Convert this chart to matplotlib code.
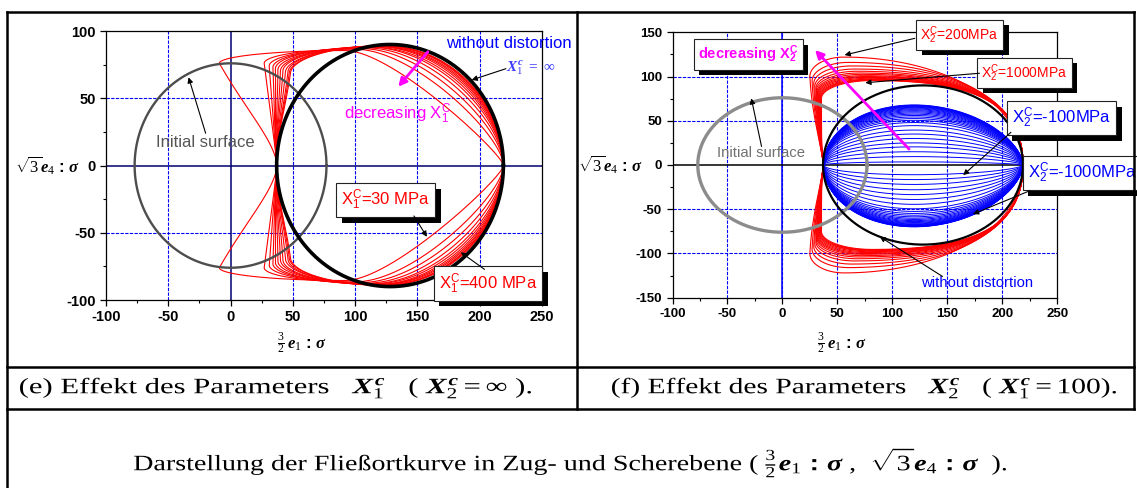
import numpy as np
import matplotlib.pyplot as plt
import matplotlib.patheffects as pe
from matplotlib.lines import Line2D
from matplotlib.textpath import TextPath
from matplotlib.patches import PathPatch
from matplotlib.font_manager import FontProperties
from matplotlib.transforms import Affine2D

plt.rcParams.update({
    'font.family': 'Liberation Sans',
    'axes.unicode_minus': False,
    'mathtext.fontset': 'custom',
    'mathtext.rm': 'Liberation Serif',
    'mathtext.it': 'Liberation Serif:italic:bold',
    'mathtext.bf': 'Liberation Sans:bold',
    'mathtext.sf': 'Liberation Sans',
})

# --- dati ---
# superficie iniziale e superficie senza distorsione (centro, semiassi)
init_cx, init_rx, init_ry = 0, 77, 76
ref_cx, ref_rx, ref_ry = 128, 91, 90
tip_left, tip_right = 37.5, 219

# pannello (e): X1c da 30 MPa (primo) a 400 MPa (ultimo)
lobe_x_e = [-9, 27, 31, 34, 36, 38, 40, 42, 44, 46, 47, 48]
lobe_y_e = [76, 76, 74, 73, 72, 71, 70, 70, 69, 69, 68, 68]
top_x_e = [92, 100, 105, 109, 112, 115, 117, 119, 121, 122, 123, 124]
top_y_e = [85.5, 86.5, 87, 87.5, 88, 88, 88.5, 88.5, 88.5, 89, 89, 89]
bulge_a_e = [0.10, 0.25, 0.33, 0.38, 0.42, 0.45, 0.47, 0.49, 0.50, 0.51, 0.52, 0.53]
bulge_b_e = [0.30, 0.40, 0.44, 0.47, 0.49, 0.50, 0.51, 0.52, 0.53, 0.54, 0.54, 0.55]

# pannello (f): X2c da 200 MPa (primo) a 1000 MPa (ultimo)
lobe_x_f = [25, 27, 28.5, 29.5, 30.5, 31, 31.5, 32, 32.5, 33, 33.5, 34, 34.5, 35, 35.5]
lobe_y_f = [100, 95, 92, 89, 87, 85, 83, 82, 81, 80, 79, 78, 77, 76, 75]
top_x_f = [56, 60, 63, 66, 68, 70, 72, 73.5, 75, 76.5, 78, 79, 80, 81, 82]
top_y_f = [122, 116, 112, 108.5, 106, 104, 102.5, 101, 100, 99, 98, 97, 96.5, 96, 95.5]
bulge_a_f = [0.62, 0.67, 0.70, 0.72, 0.73, 0.74, 0.74, 0.75, 0.75, 0.75, 0.76, 0.76, 0.76, 0.76, 0.76]
bulge_b_f = [0.52, 0.57, 0.59, 0.61, 0.62, 0.62, 0.63, 0.63, 0.64, 0.64, 0.64, 0.65, 0.65, 0.65, 0.65]

# pannello (f): X2c negativi, altezze sopra / sotto l'asse (da -100 a -1000 MPa)
blue_top = [3.5, 9.5, 15, 20.5, 25, 30, 35, 39.5, 44.5, 48, 50.5, 52.5, 54.3, 56, 57.5,
            58.9, 60.2, 61.4, 62.5, 63.5, 64.4, 65.2, 65.9, 66.5, 67.0, 67.5, 67.9]
blue_bot = [11, 16.5, 22, 28, 33.5, 39, 44.5, 49.5, 52.5, 54.8, 56.8, 58.6, 60.2, 61.6, 62.9,
            64.0, 65.0, 65.9, 66.7, 67.4, 68.0, 68.5, 68.9, 69.2, 69.5, 69.7, 69.9]

W, H = 1137, 488


def bez(p0, p1, p2, p3, n=40):
    t = np.linspace(0, 1, n)[:, None]
    p0, p1, p2, p3 = map(np.asarray, (p0, p1, p2, p3))
    return (1 - t) ** 3 * p0 + 3 * (1 - t) ** 2 * t * p1 + 3 * (1 - t) * t ** 2 * p2 + t ** 3 * p3


def yield_curve(lx, ly, tx, ty, ba, bb, slant):
    s1 = bez((tip_right, 0), (tip_right, ba * ty), (tx + bb * (tip_right - tx), ty), (tx, ty))
    s2 = bez((tx, ty), (tx - 0.55 * (tx - lx), ty), (lx, ly + 0.55 * (ty - ly)), (lx, ly))
    s3 = bez((lx, ly), (lx + slant * (tip_left - lx), 0.55 * ly), (tip_left - 2.5, 0.25 * ly), (tip_left, 0))
    up = np.vstack([s1, s2[1:], s3[1:]])
    low = up[::-1] * np.array([1, -1])
    pts = np.vstack([up, low[1:]])
    return pts[:, 0], pts[:, 1]


def ellipse(cx, rx, ry, n=300):
    th = np.linspace(0, 2 * np.pi, n)
    return cx + rx * np.cos(th), ry * np.sin(th)


def lens(h_top, h_bot, n=160):
    u = np.linspace(0, 1, n)
    g = u ** 0.5 * (1 - u) ** 0.6
    g = g / g.max()
    x = tip_left + u * (tip_right - tip_left)
    return np.concatenate([x, x[::-1]]), np.concatenate([h_top * g, -h_bot * g[::-1]])


def style_axes(ax, ylim, grid_x, grid_y, zero_x_col, zero_y_col, fs):
    ax.set_xlim(-100, 250)
    ax.set_ylim(*ylim)
    ax.set_xticks(np.arange(-100, 251, 50))
    ax.set_yticks(np.arange(ylim[0], ylim[1] + 1, 50))
    ax.set_xticks(np.arange(-100, 251, 25), minor=True)
    ax.set_yticks(np.arange(ylim[0], ylim[1] + 1, 25), minor=True)
    ax.tick_params(which='major', direction='out', length=4, width=0.9, labelsize=fs)
    ax.tick_params(which='minor', direction='out', length=2.5, width=0.8)
    for lab in ax.get_xticklabels() + ax.get_yticklabels():
        lab.set_fontweight('bold')
    for g in grid_x:
        ax.axvline(g, color='#0000ff', lw=0.8, ls=(0, (3, 1.2)), zorder=0.5)
    for g in grid_y:
        ax.axhline(g, color='#0000ff', lw=0.8, ls=(0, (3, 1.2)), zorder=0.5)
    ax.axvline(0, color=zero_x_col, lw=1.1, zorder=0.6)
    ax.axhline(0, color=zero_y_col, lw=1.1, zorder=0.6)
    for s in ax.spines.values():
        s.set_linewidth(0.9)


def box(ax, x, y, s, color, fs, weight='normal'):
    t = ax.text(x, y, s, color=color, fontsize=fs, fontweight=weight, ha='center', va='center',
                zorder=8, bbox=dict(boxstyle='square,pad=0.3', fc='white', ec='#222222', lw=0.8))
    t.get_bbox_patch().set_path_effects([pe.SimplePatchShadow(offset=(4, -4), shadow_rgbFace='black', alpha=1.0),
                                         pe.Normal()])
    return t


def arrow(ax, tail, head, color='black', lw=0.8, ms=8):
    ax.annotate('', xy=head, xytext=tail, annotation_clip=False, zorder=9,
                arrowprops=dict(arrowstyle='-|>', color=color, lw=lw, mutation_scale=ms, shrinkA=0, shrinkB=0))


def caption(s, x0, x1, yc, size_px=22):
    # testo in Times allargato orizzontalmente come nell'originale
    tp = TextPath((0, 0), s, size=size_px, prop=FontProperties(family='Liberation Serif'))
    ext = tp.get_extents()
    sx = (x1 - x0) / ext.width
    tr = (Affine2D().translate(-ext.x0, -(ext.y0 + ext.height / 2))
          .scale(sx, 1).translate(x0, H - yc))
    fig.add_artist(PathPatch(tp, transform=tr, fc='black', ec='none'))


fig = plt.figure(figsize=(11.37, 4.88), dpi=100)
axe = fig.add_axes([0.0932, 0.3852, 0.3835, 0.5512])
axf = fig.add_axes([0.5915, 0.39, 0.3382, 0.5438])

# ---------------- pannello (e) ----------------
style_axes(axe, (-100, 100), [-50, 50, 100, 150, 200], [-50, 50], '#000070', '#000070', 10.5)
for i in range(len(lobe_x_e)):
    x, y = yield_curve(lobe_x_e[i], lobe_y_e[i], top_x_e[i], top_y_e[i], bulge_a_e[i], bulge_b_e[i], 0.45)
    axe.plot(x, y, color='#ff0000', lw=0.8, zorder=2)
x, y = ellipse(init_cx, init_rx, init_ry)
axe.plot(x, y, color='#4d4d4d', lw=1.7, zorder=3)
x, y = ellipse(ref_cx, ref_rx, ref_ry)
axe.plot(x, y, color='black', lw=2.6, zorder=4)

axe.text(173, 91, 'without distortion', color='#0000ff', fontsize=12, va='center', ha='left', zorder=8)
axe.text(221, 72, r'$X_1^c\ =\ \infty$', color='#3c3cff', fontsize=11, va='center', ha='left', zorder=8)
arrow(axe, (221, 72), (193.5, 63.6))
arrow(axe, (158.4, 84.6), (134.6, 58.6), color='#ff00ff', lw=2, ms=12)
axe.text(91, 38, r'decreasing X$_{\mathsf{1}}^{\mathsf{C}}$', color='#ff00ff', fontsize=12, va='center', ha='left', zorder=8)
axe.text(-20, 17, 'Initial surface', color='#555555', fontsize=12, va='center', ha='center', zorder=8)
arrow(axe, (-20, 24), (-33.7, 65.6))
box(axe, 124.7, -25.7, r'X$_{\mathsf{1}}^{\mathsf{C}}$=30 MPa', '#ff0000', 12)
arrow(axe, (147.2, -37.5), (157.6, -53))
box(axe, 206.6, -87.7, r'X$_{\mathsf{1}}^{\mathsf{C}}$=400 MPa', '#ff0000', 12)
arrow(axe, (203.8, -77.2), (184.8, -64.5))

# ---------------- pannello (f) ----------------
style_axes(axf, (-150, 150), [-50, 0, 50, 100, 150, 200], [-100, -50, 50, 100], '#0000ff', '#000000', 9.5)
for i in range(len(lobe_x_f)):
    x, y = yield_curve(lobe_x_f[i], lobe_y_f[i], top_x_f[i], top_y_f[i], bulge_a_f[i], bulge_b_f[i], 0.15)
    axf.plot(x, y, color='#ff0000', lw=0.8, zorder=2)
for ht, hb in zip(blue_top, blue_bot):
    x, y = lens(ht, hb)
    axf.plot(x, y, color='#0000ff', lw=0.7, zorder=2.5)
x, y = ellipse(init_cx, init_rx, init_ry)
axf.plot(x, y, color='#8c8c8c', lw=2.4, zorder=3)
x, y = ellipse(ref_cx, ref_rx, ref_ry)
axf.plot(x, y, color='black', lw=1.6, zorder=4)

box(axf, -31.3, 125.2, r'decreasing X$_{\mathbf{2}}^{\mathbf{C}}$', '#ff00ff', 10.5, weight='bold')
arrow(axf, (115.3, 18), (29.7, 130), color='#ff00ff', lw=2, ms=12)
box(axf, 161.3, 147.3, r'X$_{\mathsf{2}}^{\mathsf{C}}$=200MPa', '#ff0000', 10)
arrow(axf, (120.5, 143.2), (56.6, 124.3))
box(axf, 220.4, 104.2, r'X$_{\mathsf{2}}^{\mathsf{C}}$=1000MPa', '#ff0000', 10)
arrow(axf, (179.3, 103.7), (75.5, 93))
box(axf, 254.1, 53.1, r'X$_{\mathsf{2}}^{\mathsf{C}}$=-100MPa', '#0000ff', 12)
arrow(axf, (208, 37), (164.5, -11.5))
box(axf, 272.7, -9.4, r'X$_{\mathsf{2}}^{\mathsf{C}}$=-1000MPa', '#0000ff', 12)
arrow(axf, (225.4, -29), (173.5, -55.5))
axf.text(177.6, -133, 'without distortion', color='#0000ff', fontsize=10.7, va='center', ha='center', zorder=8)
arrow(axf, (145.7, -126), (88.6, -81))
axf.text(-19.5, 14, 'Initial surface', color='#707070', fontsize=10.7, va='center', ha='center', zorder=8)
arrow(axf, (-19, 21), (-28.3, 75.4))

# etichette assi
ylab = r'$\sqrt{3}e_4\,\mathbf{:}\,\sigma$'
xlab = r'$\frac{3}{2}\,e_1\,\mathbf{:}\,\sigma$'
fig.text(80 / W, 0.661, ylab, fontsize=12, ha='right', va='center')
fig.text(643 / W, 0.662, ylab, fontsize=12, ha='right', va='center')
fig.text(302 / W, 0.297, xlab, fontsize=12, ha='center', va='center')
fig.text(842 / W, 0.297, xlab, fontsize=12, ha='center', va='center')

# didascalie
caption(r'(e) Effekt des Parameters   $X_1^c$   ( $X_2^c=\infty$ ).', 20, 531, 388)
caption(r'(f) Effekt des Parameters   $X_2^c$   ( $X_1^c=100$).', 612, 1116, 388)
caption(r'Darstellung der Fließortkurve in Zug- und Scherebene ( $\frac{3}{2}e_1\,\mathbf{:}\,\sigma$ ,  '
        r'$\sqrt{3}e_4\,\mathbf{:}\,\sigma$  ).', 134, 1006, 463)

# linee della tabella
for (x0, y0, x1, y1) in [(7, 12, 1134, 12), (7, 12, 7, 488), (1134, 12, 1134, 409),
                         (577, 12, 577, 409), (7, 367, 1134, 367), (7, 409, 1134, 409)]:
    fig.add_artist(Line2D([x0 / W, x1 / W], [1 - y0 / H, 1 - y1 / H], transform=fig.transFigure,
                          color='black', lw=1.8))

fig.savefig('out.png', dpi=100)
